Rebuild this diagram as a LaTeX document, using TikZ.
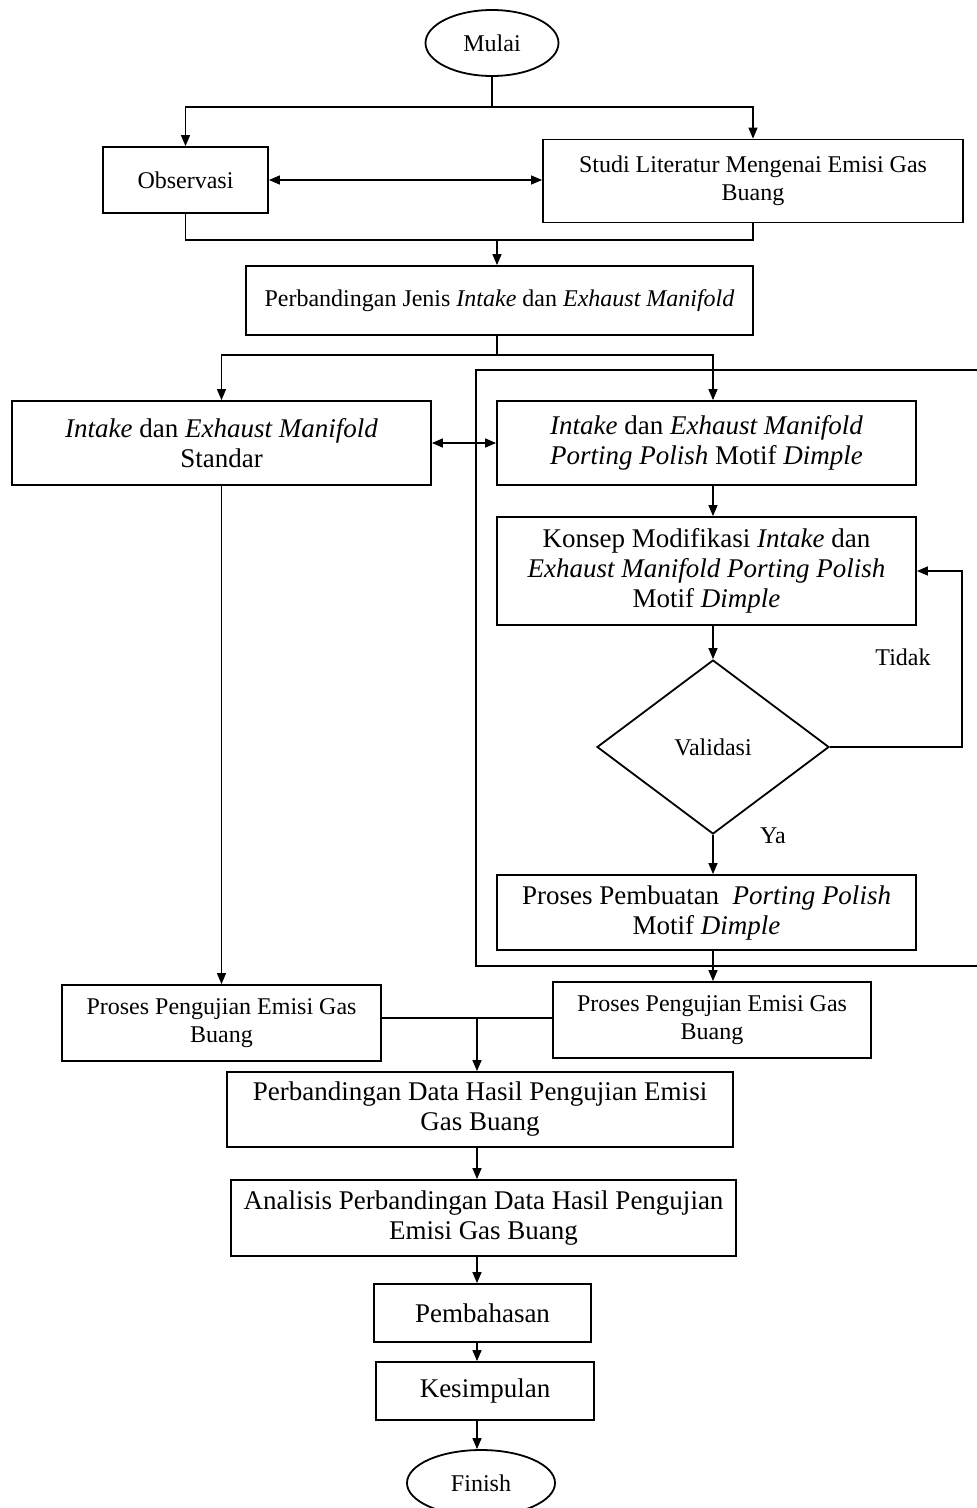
\documentclass[tikz,border=0pt]{standalone}
\usepackage{fontspec}
\setmainfont{Liberation Serif}
\usetikzlibrary{shapes.geometric,arrows.meta}
\newcommand{\fsmall}{\fontsize{24}{28}\selectfont}
\newcommand{\flarge}{\fontsize{27}{30}\selectfont}
\begin{document}
\begin{tikzpicture}[x=1pt,y=-1pt,
  box/.style={draw,line width=1.8pt,fill=white,inner sep=0pt,align=center},
  sbox/.style={box,font=\fsmall},
  lbox/.style={box,font=\flarge},
  ell/.style={draw,ellipse,line width=1.8pt,inner sep=0pt,font=\fsmall},
  dia/.style={draw,diamond,line width=1.8pt,inner sep=0pt,font=\fsmall},
  conn/.style={line width=1.4pt},
  arr/.style={conn,-{Triangle[length=11pt,width=9pt]}},
  darr/.style={conn,{Triangle[length=11pt,width=9pt]}-{Triangle[length=11pt,width=9pt]}},
  lbl/.style={font=\fsmall,inner sep=0pt}]
\useasboundingbox (0,0) rectangle (977,1508);

% group frame
\draw[line width=1.8pt] (990,370) -| (476,966) -- (990,966);

% nodes
\node[ell,minimum width=133,minimum height=66] (mulai) at (492,43) {Mulai};
\node[sbox,minimum width=165,minimum height=66] (obs) at (185.5,180) {Observasi};
\node[sbox,minimum width=420,minimum height=83] (studi) at (753,181) {Studi Literatur Mengenai Emisi Gas\\Buang};
\node[sbox,minimum width=507,minimum height=69] (jenis) at (499.5,300.5) {Perbandingan Jenis \textit{Intake} dan \textit{Exhaust Manifold}};
\node[lbox,minimum width=419,minimum height=84] (std) at (221.5,443) {\textit{Intake} dan \textit{Exhaust Manifold}\\Standar};
\node[lbox,minimum width=419,minimum height=84] (port) at (706.5,443) {\textit{Intake} dan \textit{Exhaust Manifold}\\\textit{Porting Polish} Motif \textit{Dimple}};
\node[lbox,minimum width=419,minimum height=108] (kon) at (706.5,571) {Konsep Modifikasi \textit{Intake} dan\\\textit{Exhaust Manifold Porting Polish}\\Motif \textit{Dimple}};
\node[dia,minimum width=232,minimum height=174] (val) at (713,747) {Validasi};
\node[lbox,minimum width=419,minimum height=75] (pemb) at (706.5,912.5) {Proses Pembuatan\ \ \textit{Porting Polish}\\Motif \textit{Dimple}};
\node[sbox,minimum width=319,minimum height=76] (pl) at (221.5,1023) {Proses Pengujian Emisi Gas\\Buang};
\node[sbox,minimum width=318,minimum height=76] (pr) at (712,1020) {Proses Pengujian Emisi Gas\\Buang};
\node[lbox,minimum width=506,minimum height=75] (pd) at (480,1109.5) {Perbandingan Data Hasil Pengujian Emisi\\Gas Buang};
\node[lbox,minimum width=505,minimum height=76] (an) at (483.5,1218) {Analisis Perbandingan Data Hasil Pengujian\\Emisi Gas Buang};
\node[lbox,minimum width=217,minimum height=58] (pbh) at (482.5,1313) {Pembahasan};
\node[lbox,minimum width=218,minimum height=58] (kes) at (485,1391) {Kesimpulan};
\node[ell,minimum width=148,minimum height=66] (fin) at (481,1483) {Finish};

\node[lbl] (tidak) at (903,657) {Tidak};
\node[lbl] (ya) at (773,836) {Ya};

% junctions
\coordinate (j1) at (492,107);
\coordinate (j2) at (497,240);
\coordinate (j3) at (497,355);
\coordinate (j4) at (477,1018);
\coordinate (jt) at (962,747);

% connectors
\draw[conn] (mulai.south) -- (j1);
\draw[arr] (j1) -| (obs.north);
\draw[arr] (j1) -| (studi.north);
\draw[darr] (obs.east) -- (obs.east -| studi.west);
\draw[conn] (obs.south) |- (j2) -| (studi.south);
\draw[arr] (j2) -- (j2 |- jenis.north);
\draw[conn] (jenis.south -| j3) -- (j3);
\draw[arr] (j3) -| (std.north);
\draw[arr] (j3) -| (port.north -| val);
\draw[darr] (std.east) -- (port.west);
\draw[arr] (port.south -| val) -- (kon.north -| val);
\draw[arr] (kon.south -| val) -- (val.north);
\draw[arr] (val.east) -- (jt) |- (kon.east);
\draw[arr] (val.south) -- (pemb.north -| val);
\draw[arr] (pemb.south -| val) -- (pr.north -| val);
\draw[arr] (std.south) -- (pl.north);
\draw[conn] (pl.east |- j4) -- (pr.west |- j4);
\draw[arr] (j4) -- (j4 |- pd.north);
\draw[arr] (pd.south -| j4) -- (an.north -| j4);
\draw[arr] (an.south -| j4) -- (pbh.north -| j4);
\draw[arr] (pbh.south -| j4) -- (kes.north -| j4);
\draw[arr] (kes.south -| j4) -- (fin.north -| j4);
\end{tikzpicture}
\end{document}
